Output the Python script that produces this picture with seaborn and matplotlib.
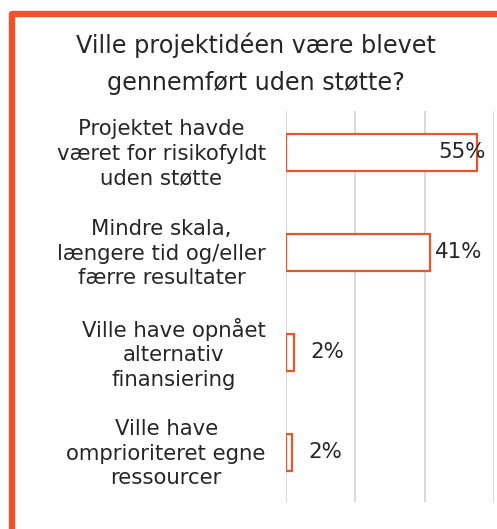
import matplotlib
matplotlib.use("Agg")
import matplotlib.pyplot as plt
from matplotlib.lines import Line2D
import matplotlib.transforms as mtransforms
import seaborn as sns
import pandas as pd

title = "Ville projektidéen være blevet\ngennemført uden støtte?"
categories = [
    "Projektet havde\nværet for risikofyldt\nuden støtte",
    "Mindre skala,\nlængere tid og/eller\nfærre resultater",
    "Ville have opnået\nalternativ\nfinansiering",
    "Ville have\nomprioriteret egne\nressourcer",
]
values = [55.2, 41.4, 2.3, 1.7]
value_labels = ["55%", "41%", "2%", "2%"]

orange = "#F0522A"
text_col = "#262626"

df = pd.DataFrame({"cat": categories, "val": values})

sns.set_style("white")
plt.rcParams["font.family"] = ["DejaVu Sans"]

W, H = 497, 529
fig = plt.figure(figsize=(W / 100, H / 100), dpi=100)
ax = fig.add_axes([286 / W, 1 - 502 / H, (494 - 286) / W, (502 - 111) / H])

sns.barplot(data=df, x="val", y="cat", orient="h", ax=ax, width=0.37,
            color="white", edgecolor=orange, linewidth=1.6)

ax.set_xlim(0, 60)
ax.set_ylim(3.495, -0.415)
ax.set_xticks([0, 20, 40, 60])
ax.xaxis.grid(True, color="#D9D9D9", linewidth=1.4)
ax.set_axisbelow(True)
ax.tick_params(axis="x", bottom=False, labelbottom=False)
ax.tick_params(axis="y", left=False, pad=11)
for s in ax.spines.values():
    s.set_visible(False)
ax.set_xlabel("")
ax.set_ylabel("")
shift_up = mtransforms.ScaledTranslation(0, 3 / 100, fig.dpi_scale_trans)
for lab in ax.get_yticklabels():
    lab.set_multialignment("center")
    lab.set_fontsize(15.3)
    lab.set_linespacing(1.28)
    lab.set_color(text_col)
    lab.set_transform(lab.get_transform() + shift_up)

# value labels: first one sits inside the plot edge, rest just outside the bar end
offsets = [(8, "right"), (5, "left"), (16, "left"), (16, "left")]
for i, (v, lab) in enumerate(zip(values, value_labels)):
    dx, ha = offsets[i]
    ax.annotate(lab, xy=(v, i), xytext=(dx * 0.72, 0), textcoords="offset points",
                ha=ha, va="center", fontsize=15.4, color=text_col)

fig.text(256 / W, 1 - 64 / H, title, ha="center", va="center", fontsize=17.2,
         color=text_col, linespacing=1.68)

# orange frame on top and left
def fx(px):
    return px / W

def fy(py):
    return 1 - py / H

frame = Line2D([fx(12), fx(12), fx(W + 10)], [fy(H + 10), fy(14), fy(14)],
               transform=fig.transFigure, color=orange, linewidth=4.6,
               solid_joinstyle="round")
fig.add_artist(frame)

fig.savefig("out.png", dpi=100)
